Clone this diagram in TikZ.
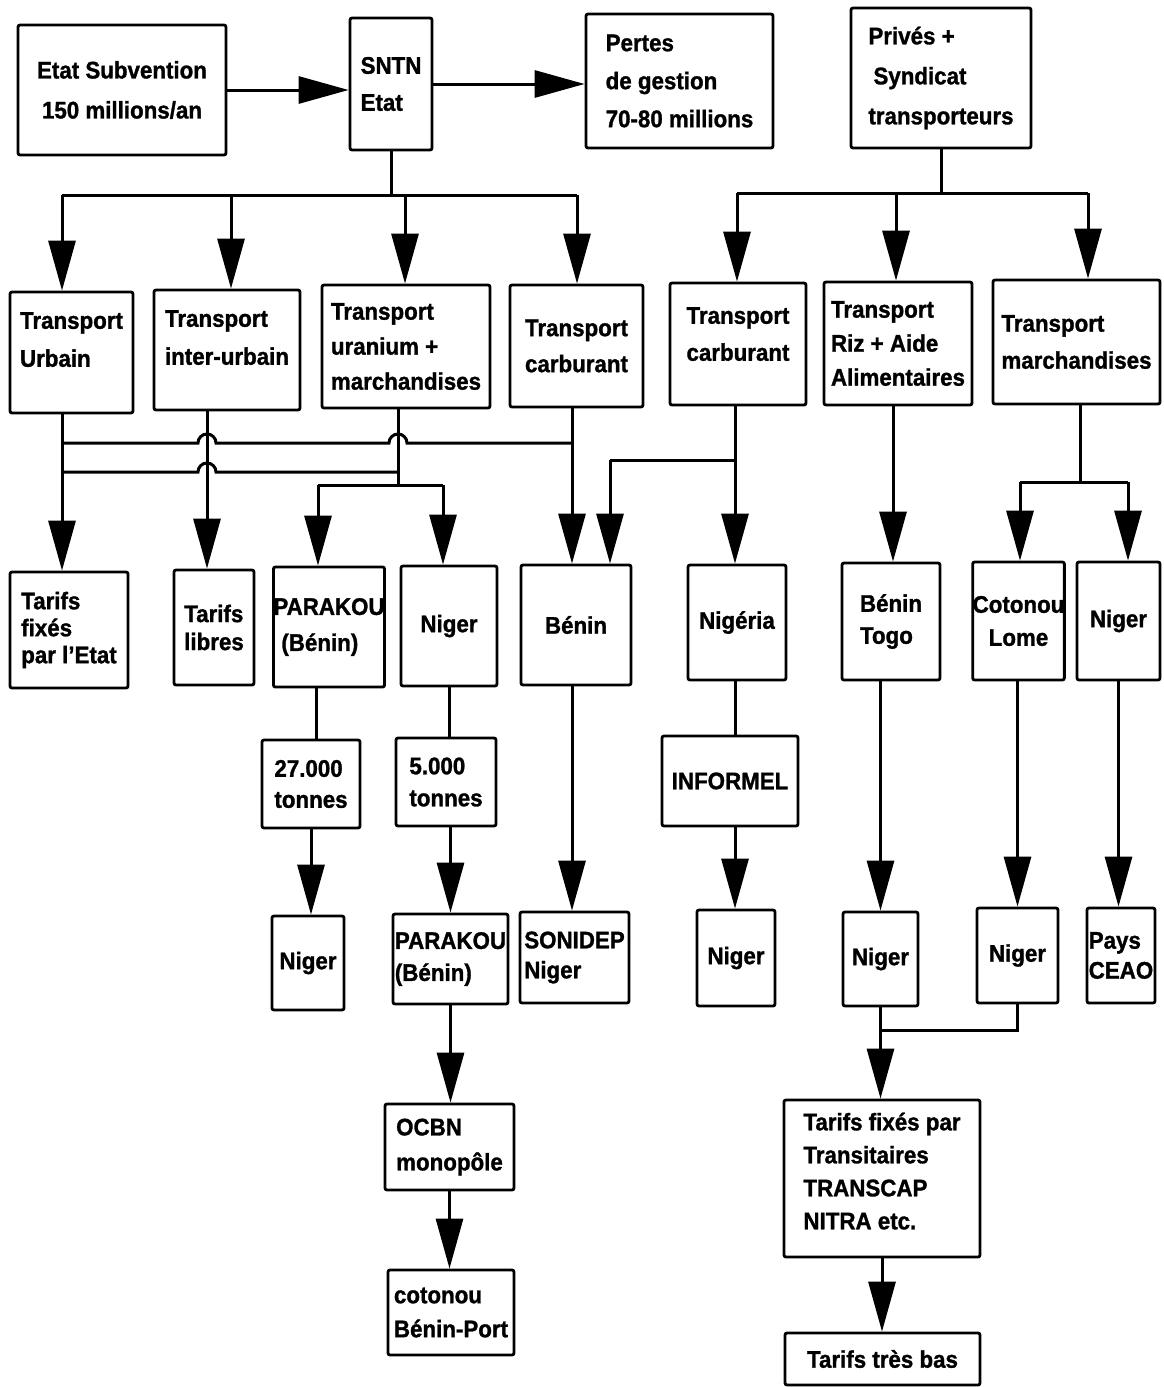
\documentclass[tikz,border=0pt]{standalone}
\usepackage{fontspec}
\setmainfont{Liberation Sans}[FakeStretch=0.93, BoldFeatures={FakeBold=1.2}]
\usetikzlibrary{arrows.meta,calc}
\begin{document}
\begin{tikzpicture}[x=1pt,y=-1pt,
  box/.style={draw, line width=2.8pt, rounded corners=2pt, inner sep=0pt, align=left,
              font=\fontsize{24}{37}\selectfont\bfseries},
  ls/.style={font=\fontsize{24}{#1}\selectfont\bfseries},
  wire/.style={line width=3pt},
  arr/.style={wire, -{Triangle[length=50pt,width=27pt]}}]

\fill[white] (0,0) rectangle (1164,1387);
\useasboundingbox (0,0) rectangle (1164,1387);

% ---- top row
\node[box, minimum width=208pt, minimum height=130pt, align=center, ls=40] (etat) at (122,90) {Etat Subvention\\150 millions/an};
\node[box, minimum width=82pt, minimum height=132pt, ls=37] (sntn) at (391,84) {SNTN\\Etat};
\node[box, minimum width=187pt, minimum height=134pt, ls=38] (pertes) at (679.5,81) {Pertes\\de gestion\\70-80 millions};
\node[box, minimum width=180pt, minimum height=140pt, ls=40] (prives) at (941,78) {Privés +\\\hspace*{5pt}Syndicat\\transporteurs};

% ---- transport row (a trailing negative line lifts the text a little)
\node[box, minimum width=123pt, minimum height=121pt, ls=38] (turb) at (71.5,352.5) {Transport\\Urbain\\[-12pt]};
\node[box, minimum width=146pt, minimum height=120pt, ls=38] (tinter) at (227,350) {Transport\\inter-urbain\\[-13pt]};
\node[box, minimum width=168pt, minimum height=123pt, ls=35] (turan) at (406,346.5) {Transport\\uranium +\\marchandises};
\node[box, minimum width=133pt, minimum height=122pt, ls=36] (tcarb1) at (576.5,346) {Transport\\carburant};
\node[box, minimum width=136pt, minimum height=122pt, ls=37] (tcarb2) at (738,344) {Transport\\carburant\\[-17pt]};
\node[box, minimum width=148pt, minimum height=123pt, ls=34] (triz) at (898,343.5) {Transport\\Riz + Aide\\Alimentaires};
\node[box, minimum width=167pt, minimum height=124pt, ls=37] (tmarch) at (1076.5,342) {Transport\\marchandises};

% ---- destination row
\node[box, minimum width=118pt, minimum height=116pt, ls=27] (tfixe) at (69,630) {Tarifs\\fixés\\par l'Etat};
\node[box, minimum width=80pt, minimum height=115pt, ls=28] (tlibre) at (214,627.5) {Tarifs\\libres};
\node[box, minimum width=108pt, minimum height=120pt, ls=36] (parakou1) at (329,627) {PARAKOU\\\hspace*{8pt}(Bénin)};
\node[box, minimum width=96pt, minimum height=120pt] (niger1) at (449,626) {Niger};
\node[box, minimum width=110pt, minimum height=120pt] (benin1) at (576,625) {Bénin};
\node[box, minimum width=98pt, minimum height=115pt] (nigeria) at (737,622.5) {Nigéria};
\node[box, minimum width=98pt, minimum height=117pt, ls=32] (benintogo) at (891,621.5) {Bénin\\Togo};
\node[box, minimum width=87pt, minimum height=118pt, align=center, ls=33] (cotonou) at (1018.5,621) {Cotonou\\Lome};
\node[box, minimum width=83pt, minimum height=118pt] (niger2) at (1118.5,621) {Niger};

% ---- tonnage row
\node[box, minimum width=98pt, minimum height=88pt, ls=31] (t27) at (311,784) {27.000\\tonnes};
\node[box, minimum width=100pt, minimum height=88pt, ls=32] (t5) at (446,782) {5.000\\tonnes};
\node[box, minimum width=136pt, minimum height=90pt] (informel) at (730,781) {INFORMEL};

% ---- fifth row
\node[box, minimum width=72pt, minimum height=94pt] (niger3) at (308,963) {Niger};
\node[box, minimum width=115pt, minimum height=90pt, ls=32] (parakou2) at (450.5,959) {PARAKOU\\(Bénin)};
\node[box, minimum width=109pt, minimum height=91pt, ls=30] (sonidep) at (574.5,957.5) {SONIDEP\\Niger};
\node[box, minimum width=78pt, minimum height=96pt] (niger4) at (736,958) {Niger};
\node[box, minimum width=75pt, minimum height=94pt] (niger5) at (880.5,959) {Niger};
\node[box, minimum width=81pt, minimum height=95pt] (niger6) at (1017.5,955.5) {Niger};
\node[box, minimum width=68pt, minimum height=95pt, ls=30] (ceao) at (1121,955.5) {Pays\\CEAO};

% ---- bottom
\node[box, minimum width=129pt, minimum height=86pt, ls=35] (ocbn) at (449.5,1147) {OCBN\\monopôle};
\node[box, minimum width=126pt, minimum height=85pt, ls=34] (port) at (451,1312.5) {cotonou\\Bénin-Port};
\node[box, minimum width=196pt, minimum height=157pt, ls=33] (transit) at (882,1178.5) {Tarifs fixés par\\Transitaires\\TRANSCAP\\NITRA etc.\\[-18pt]};
\node[box, minimum width=195pt, minimum height=52pt] (tresbas) at (882.5,1359) {Tarifs très bas};

% ---- top arrows
\draw[arr] (etat.east) -- (etat.east -| sntn.west);
\draw[arr] (sntn.east) -- (sntn.east -| pertes.west);

% ---- SNTN distribution bar
\coordinate (s0) at (391,195);
\coordinate (sA) at (62,195);
\coordinate (sB) at (231,195);
\coordinate (sC) at (405,195);
\coordinate (sD) at (577,195);
\draw[wire] (sntn.south) -- (s0);
\draw[wire] (sA) -- (sD);
\draw[arr] (sA) -- (sA |- turb.north);
\draw[arr] (sB) -- (sB |- tinter.north);
\draw[arr] (sC) -- (sC |- turan.north);
\draw[arr] (sD) -- (sD |- tcarb1.north);

% ---- private operators bar
\coordinate (p0) at (941,193);
\coordinate (pA) at (737,193);
\coordinate (pB) at (896,193);
\coordinate (pC) at (1088,193);
\draw[wire] (prives.south) -- (p0);
\draw[wire] (pA) -- (pC);
\draw[arr] (pA) -- (pA |- tcarb2.north);
\draw[arr] (pB) -- (pB |- triz.north);
\draw[arr] (pC) -- (pC |- tmarch.north);

% ---- state transport outlets
\coordinate (vU) at ($(turb.south)+(-9.5,0)$);
\coordinate (vI) at ($(tinter.south)+(-20,0)$);
\coordinate (vR) at ($(turan.south)+(-8,0)$);
\coordinate (vC) at ($(tcarb1.south)+(-4.5,0)$);
\coordinate (h1) at (0,443);
\coordinate (h2) at (0,472);

\draw[arr] (vU) -- (vU |- tfixe.north);
\draw[arr] (vI) -- (vI |- tlibre.north);
\draw[arr] (vC) -- (vC |- benin1.north);

% cross links with hops over the vertical lines
\draw[wire] (vU |- h1) -- ($(vI |- h1)+(-9,0)$) arc[start angle=180,end angle=0,radius=9pt]
  -- ($(vR |- h1)+(-9,0)$) arc[start angle=180,end angle=0,radius=9pt] -- (vC |- h1);
\draw[wire] (vU |- h2) -- ($(vI |- h2)+(-9,0)$) arc[start angle=180,end angle=0,radius=9pt]
  -- (vR |- h2);

% uranium split
\coordinate (r0) at (398,485);
\coordinate (rL) at (318,485);
\coordinate (rR) at (443,485);
\draw[wire] (vR) -- (r0);
\draw[wire] (rL) -- (rR);
\draw[arr] (rL) -- (rL |- parakou1.north);
\draw[arr] (rR) -- (rR |- niger1.north);

% private fuel transport
\coordinate (vN) at ($(tcarb2.south)+(-3,0)$);
\coordinate (k1) at (735,460);
\coordinate (k2) at (610,460);
\draw[arr] (vN) -- (vN |- nigeria.north);
\draw[wire] (k1) -- (k2);
\draw[arr] (k2) -- (k2 |- benin1.north);

% rice and food aid
\coordinate (vZ) at ($(triz.south)+(-5,0)$);
\draw[arr] (vZ) -- (vZ |- benintogo.north);

% goods split
\coordinate (vM) at ($(tmarch.south)+(3.5,0)$);
\coordinate (m0) at (1080,482);
\coordinate (mL) at (1020,482);
\coordinate (mR) at (1128,482);
\draw[wire] (vM) -- (m0);
\draw[wire] (mL) -- (mR);
\draw[arr] (mL) -- (mL |- cotonou.north);
\draw[arr] (mR) -- (mR |- niger2.north);

% ---- lower chains
\coordinate (a1) at ($(parakou1.south)+(-13,0)$);
\draw[wire] (a1) -- (a1 |- t27.north);
\draw[arr] (t27.south) -- (t27.south |- niger3.north);
\draw[wire] (niger1.south) -- (niger1.south |- t5.north);
\draw[arr] (parakou2.north |- t5.south) -- (parakou2.north);
\draw[arr] (vC |- benin1.south) -- (vC |- sonidep.north);
\draw[wire] (vN |- nigeria.south) -- (vN |- informel.north);
\draw[arr] (vN |- informel.south) -- (vN |- niger4.north);
\draw[arr] (niger5.north |- benintogo.south) -- (niger5.north);
\draw[arr] (niger6.north |- cotonou.south) -- (niger6.north);
\draw[arr] (niger2.south) -- (niger2.south |- ceao.north);
\draw[arr] (parakou2.south) -- (parakou2.south |- ocbn.north);
\draw[arr] (ocbn.south) -- (ocbn.south |- port.north);

% merge towards the forwarding agents
\coordinate (g0) at (880,1030);
\draw[wire] (niger5.south) -- (niger5.south |- g0) -- (niger6.south |- g0) -- (niger6.south);
\draw[arr] (niger5.south |- g0) -- (niger5.south |- transit.north);
\draw[arr] (transit.south) -- (transit.south |- tresbas.north);

\end{tikzpicture}
\end{document}
